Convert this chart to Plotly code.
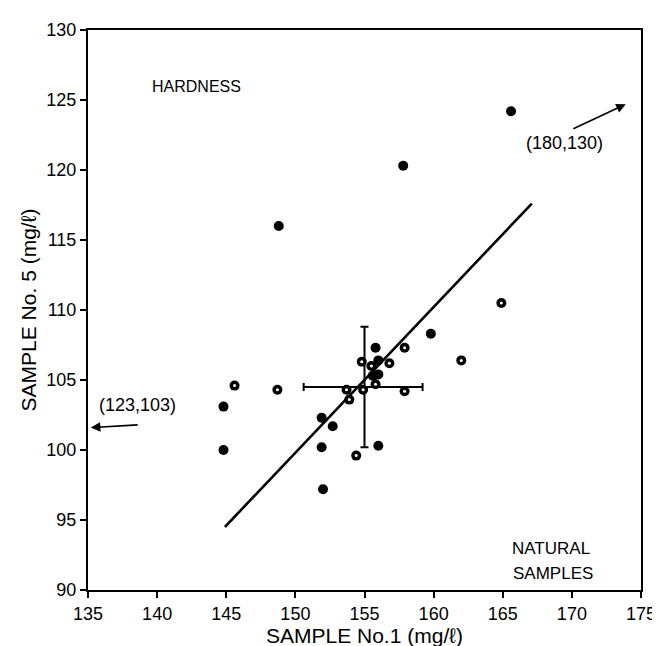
import plotly.graph_objects as go

# Data
solid_x = [165.6, 157.8, 148.8, 159.8, 155.8, 156.0, 155.6, 156.0, 151.9, 152.7, 151.9, 156.0, 152.0, 144.8, 144.8]
solid_y = [124.2, 120.3, 116.0, 108.3, 107.3, 106.4, 105.3, 105.4, 102.3, 101.7, 100.2, 100.3, 97.2, 103.1, 100.0]
ring_x = [164.9, 162.0, 157.9, 154.8, 155.5, 156.8, 155.8, 153.7, 154.9, 157.9, 153.9, 154.4, 145.6, 148.7]
ring_y = [110.5, 106.4, 107.3, 106.3, 106.0, 106.2, 104.7, 104.3, 104.3, 104.2, 103.6, 99.6, 104.6, 104.3]

fit_x = [144.9, 167.1]
fit_y = [94.5, 117.6]

mean_x = [155.0]
mean_y = [104.5]
err_x_minus = [4.4]
err_x_plus = [4.2]
err_y_minus = [4.3]
err_y_plus = [4.3]

x_ticks = [135, 140, 145, 150, 155, 160, 165, 170, 175]
y_ticks = [90, 95, 100, 105, 110, 115, 120, 125, 130]

FONT = "Liberation Sans, Arial, sans-serif"

fig = go.Figure()

fig.add_trace(go.Scatter(x=fit_x, y=fit_y, mode="lines",
                         line=dict(color="black", width=2.6), showlegend=False))

fig.add_trace(go.Scatter(x=mean_x, y=mean_y, mode="markers",
                         marker=dict(size=1, color="black", opacity=0),
                         error_x=dict(type="data", symmetric=False, array=err_x_plus,
                                      arrayminus=err_x_minus, color="black", thickness=2, width=4),
                         error_y=dict(type="data", symmetric=False, array=err_y_plus,
                                      arrayminus=err_y_minus, color="black", thickness=2, width=4),
                         showlegend=False))

all_x = solid_x + ring_x
all_y = solid_y + ring_y
fig.add_trace(go.Scatter(x=all_x, y=all_y, mode="markers",
                         marker=dict(size=10, color="black", line=dict(width=0)),
                         showlegend=False))
fig.add_trace(go.Scatter(x=ring_x, y=ring_y, mode="markers",
                         marker=dict(size=3, color="white", line=dict(width=0)),
                         showlegend=False))

annotations = [
    dict(x=139.5, y=126.0, text="HARDNESS", showarrow=False, xanchor="left",
         font=dict(size=16, color="black", family=FONT)),
    dict(x=169.5, y=121.9, text="(180,130)", showarrow=False,
         font=dict(size=18, color="black", family=FONT)),
    dict(x=138.6, y=103.2, text="(123,103)", showarrow=False,
         font=dict(size=18, color="black", family=FONT)),
    dict(x=168.5, y=93.0, text="NATURAL", showarrow=False,
         font=dict(size=17, color="black", family=FONT)),
    dict(x=168.6, y=91.2, text="SAMPLES", showarrow=False,
         font=dict(size=17, color="black", family=FONT)),
    dict(x=173.9, y=124.7, ax=170.0, ay=122.9, axref="x", ayref="y", xref="x", yref="y",
         text="", showarrow=True, arrowhead=2, arrowsize=1.2, arrowwidth=1.6, arrowcolor="black"),
    dict(x=135.2, y=101.6, ax=138.7, ay=101.8, axref="x", ayref="y", xref="x", yref="y",
         text="", showarrow=True, arrowhead=2, arrowsize=1.2, arrowwidth=1.6, arrowcolor="black"),
]

fig.update_layout(
    width=660, height=646,
    margin=dict(l=80, r=17, t=19, b=63),
    plot_bgcolor="white", paper_bgcolor="white",
    font=dict(family=FONT, color="black", size=17),
    annotations=annotations,
    xaxis=dict(range=[135, 175], tickvals=x_ticks, ticktext=[str(v) for v in x_ticks],
               showgrid=False, zeroline=False, showline=True, linecolor="black", linewidth=2,
               mirror=True, ticks="outside", ticklen=6, tickwidth=2, tickcolor="black",
               tickfont=dict(size=18, family=FONT),
               title=dict(text="SAMPLE No.1 (mg/ℓ)", font=dict(size=21, family=FONT), standoff=4)),
    yaxis=dict(range=[90, 130], tickvals=y_ticks, ticktext=[str(v) for v in y_ticks],
               showgrid=False, zeroline=False, showline=True, linecolor="black", linewidth=2,
               mirror=True, ticks="outside", ticklen=6, tickwidth=2, tickcolor="black",
               tickfont=dict(size=18, family=FONT),
               title=dict(text="SAMPLE No. 5 (mg/ℓ)", font=dict(size=21, family=FONT), standoff=4)),
)

fig.write_html("out.html")
